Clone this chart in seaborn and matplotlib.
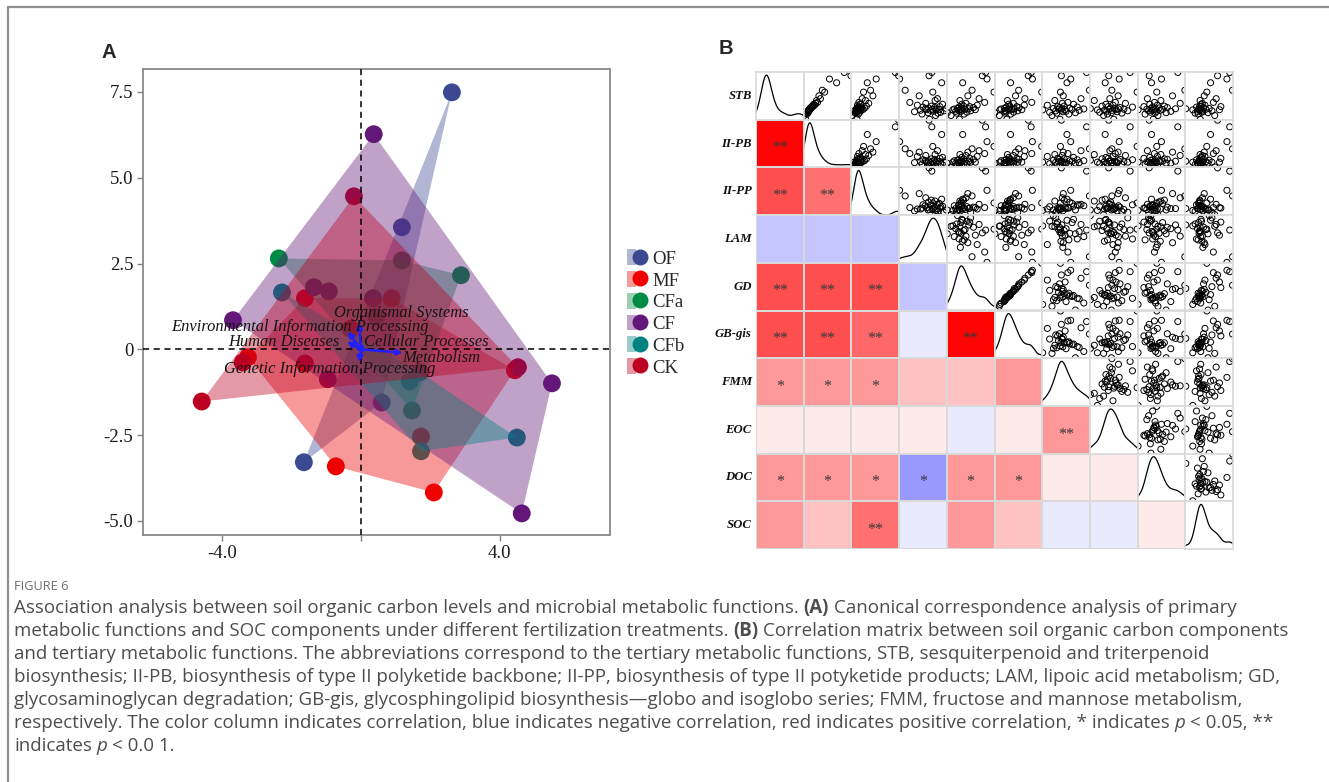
import numpy as np
import pandas as pd
import matplotlib
matplotlib.use("Agg")
import matplotlib.pyplot as plt
import seaborn as sns
from matplotlib.colors import LinearSegmentedColormap
from matplotlib.lines import Line2D
from matplotlib.patches import Patch, Polygon
from matplotlib.legend_handler import HandlerTuple

# ---------------- Panel A: CCA ordination ----------------
treatments = ["OF", "MF", "CFa", "CF", "CFb", "CK"]
treatment_colors = ["#3B4992", "#EE0000", "#008B45", "#631879", "#008280", "#BB0021"]

sample_group = (["OF"] * 4 + ["MF"] * 7 + ["CFa"] * 5 + ["CF"] * 8
                + ["CFb"] * 5 + ["CK"] * 6)
cca1 = [2.62, 1.18, 0.60, -1.64,
        -1.61, 0.89, -3.25, -0.72, 2.10, 4.43, 1.73,
        -2.36, 1.18, 2.88, 1.47, 0.45,
        0.37, -3.68, 5.50, 4.63, -1.35, -0.92, 0.35, -0.95,
        -2.27, 1.70, 1.41, 4.49, 1.73,
        -0.20, -4.58, 4.52, -1.61, -3.40, -0.30]
cca2 = [7.49, 3.56, -1.55, -3.29,
        1.49, 1.49, -0.23, -3.41, -4.17, -0.61, -2.54,
        2.65, 2.59, 2.16, -1.78, 0.95,
        6.27, 0.85, -0.99, -4.78, 1.81, 1.69, 1.49, -0.87,
        1.66, -0.67, -0.93, -2.57, -2.97,
        4.46, -1.52, -0.52, -0.41, -0.38, 0.60]

pathways = ["Organismal Systems", "Environmental Information Processing",
            "Human Diseases", "Cellular Processes", "Metabolism",
            "Genetic Information Processing"]
path_cca1 = [-0.05, -0.37, -0.40, 0.10, 1.20, -0.05]
path_cca2 = [0.78, 0.52, 0.23, 0.15, -0.10, -0.37]

# ---------------- Panel B: correlation matrix ----------------
variables = ["STB", "II-PB", "II-PP", "LAM", "GD", "GB-gis", "FMM", "EOC", "DOC", "SOC"]

corr_lower = [
    [],
    [0.98],
    [0.69, 0.56],
    [-0.23, -0.23, -0.23],
    [0.69, 0.69, 0.69, -0.23],
    [0.69, 0.69, 0.59, -0.08, 0.98],
    [0.40, 0.40, 0.40, 0.24, 0.24, 0.40],
    [0.08, 0.08, 0.08, 0.08, -0.08, 0.08, 0.40],
    [0.40, 0.40, 0.40, -0.40, 0.40, 0.40, 0.08, 0.08],
    [0.40, 0.24, 0.56, -0.08, 0.40, 0.24, -0.08, -0.08, 0.08],
]
stars_lower = [
    [],
    ["**"],
    ["**", "**"],
    ["", "", ""],
    ["**", "**", "**", ""],
    ["**", "**", "**", "", "**"],
    ["*", "*", "*", "", "", ""],
    ["", "", "", "", "", "", "**"],
    ["*", "*", "*", "*", "*", "*", "", ""],
    ["", "", "**", "", "", "", "", "", ""],
]

# per-sample measurements (36 samples)
STB = [10.0, 14.0, 15.5, 16.5, 17.0, 17.5, 18.0, 18.5, 19.0, 19.5,
       19.6, 20.0, 20.2, 20.5, 20.7, 21.0, 21.2, 21.5, 22.0, 22.5,
       23.0, 23.5, 24.0, 25.0, 26.0, 27.0, 28.0, 30.0, 32.0, 35.0,
       39.0, 41.0, 49.0, 53.0, 56.5, 60.0]
II_PB = [4.0, 2.8, 5.2, 4.8, 6.0, 5.6, 6.4, 6.0, 6.8, 6.4,
         7.2, 6.8, 6.8, 7.6, 7.2, 8.0, 7.6, 8.4, 8.0, 9.2,
         8.8, 10.0, 9.6, 11.6, 10.8, 12.4, 14.0, 13.2, 16.4, 15.2,
         20.0, 18.0, 30.0, 24.0, 42.0, 36.4]
II_PP = [12.4, 8.0, 13.6, 10.8, 12.0, 14.8, 11.2, 13.2, 10.0, 16.0,
         12.8, 11.6, 14.0, 17.6, 12.4, 15.6, 13.2, 12.0, 18.8, 14.4,
         16.4, 13.6, 20.4, 12.8, 15.2, 22.4, 14.0, 19.6, 16.8, 26.0,
         18.0, 24.0, 21.2, 28.8, 48.0, 45.2]
LAM = [52.0, 58.5, 44.0, 61.0, 50.5, 64.0, 36.0, 56.0, 67.5, 53.0,
       42.5, 59.0, 49.0, 62.5, 55.0, 47.5, 60.0, 70.0, 51.0, 57.5,
       45.0, 63.0, 54.0, 39.0, 66.0, 48.0, 31.0, 58.0, 60.5, 41.0,
       55.5, 26.0, 65.0, 20.0, 51.5, 54.5]
GD = [22.8, 17.4, 25.8, 21.0, 15.0, 27.6, 23.4, 20.4, 30.0, 22.2,
      24.6, 18.6, 33.0, 23.7, 26.4, 19.5, 28.8, 21.6, 24.0, 31.8,
      22.5, 29.4, 25.5, 34.2, 24.3, 27.0, 39.0, 23.1, 35.4, 28.2,
      45.0, 30.9, 24.9, 40.5, 37.5, 39.6]
GB_gis = [11.8, 9.4, 13.1, 11.2, 8.0, 14.0, 11.5, 10.9, 15.3, 11.3,
          12.9, 9.6, 16.6, 12.2, 13.5, 10.0, 14.2, 11.0, 12.6, 15.7,
          11.6, 15.0, 12.8, 17.4, 12.4, 13.9, 19.8, 12.0, 17.6, 14.6,
          23.0, 15.6, 13.0, 20.0, 18.7, 19.6]
FMM = [44.8, 38.0, 52.4, 42.0, 58.0, 36.0, 47.2, 50.0, 41.2, 61.2,
       45.6, 30.0, 49.2, 55.2, 43.6, 65.2, 46.4, 39.2, 53.2, 44.4,
       59.6, 42.8, 48.4, 34.0, 56.4, 46.8, 51.6, 40.4, 62.8, 47.6,
       45.2, 70.0, 50.8, 54.0, 46.0, 67.6]
EOC = [35.0, 28.5, 31.0, 40.2, 33.5, 26.0, 37.2, 30.5, 44.0, 34.0,
       29.0, 24.5, 36.5, 32.0, 41.5, 38.0, 35.5, 20.0, 33.0, 39.0,
       47.0, 31.5, 27.5, 34.5, 30.0, 42.5, 36.0, 22.5, 32.5, 37.8,
       50.0, 33.8, 29.5, 38.5, 31.8, 45.5]
DOC = [9.6, 10.4, 8.2, 9.9, 11.8, 9.1, 10.1, 12.6, 8.8, 9.4,
       10.8, 7.0, 9.7, 11.2, 8.5, 10.0, 13.4, 9.2, 10.6, 12.0,
       9.5, 8.0, 11.5, 10.3, 9.0, 14.2, 9.8, 10.9, 8.6, 12.9,
       10.2, 15.0, 9.3, 11.0, 8.9, 13.8]
SOC = [16.2, 22.4, 15.3, 14.0, 19.5, 16.7, 17.3, 15.0, 21.2, 15.9,
       16.9, 13.0, 24.4, 15.5, 18.6, 16.4, 10.0, 20.0, 15.7, 17.6,
       14.6, 25.0, 16.0, 18.2, 16.5, 17.1, 21.8, 16.1, 23.0, 17.9,
       19.0, 30.0, 20.6, 27.6, 23.6, 28.8]

caption_head = "FIGURE 6"
caption_lines = [
    [("Association analysis between soil organic carbon levels and microbial metabolic functions. ", "normal"),
     ("(A)", "bold"), (" Canonical correspondence analysis of primary", "normal")],
    [("metabolic functions and SOC components under different fertilization treatments. ", "normal"),
     ("(B)", "bold"), (" Correlation matrix between soil organic carbon components", "normal")],
    [("and tertiary metabolic functions. The abbreviations correspond to the tertiary metabolic functions, STB, sesquiterpenoid and triterpenoid", "normal")],
    [("biosynthesis; II-PB, biosynthesis of type II polyketide backbone; II-PP, biosynthesis of type II potyketide products; LAM, lipoic acid metabolism; GD,", "normal")],
    [("glycosaminoglycan degradation; GB-gis, glycosphingolipid biosynthesis\u2014globo and isoglobo series; FMM, fructose and mannose metabolism,", "normal")],
    [("respectively. The color column indicates correlation, blue indicates negative correlation, red indicates positive correlation, * indicates ", "normal"),
     ("p", "italic"), (" < 0.05, **", "normal")],
    [("indicates ", "normal"), ("p", "italic"), (" < 0.0 1.", "normal")],
]

# ---------------- figure set-up ----------------
sns.set_theme(style="white")
plt.rcParams["font.family"] = ["Liberation Serif", "DejaVu Serif"]

W, H = 1329, 782
fig = plt.figure(figsize=(W / 100, H / 100), dpi=100)
fig.patch.set_facecolor("white")


def fx(px):
    return px / W


def fy(py):
    return 1 - py / H


def convex_hull(points):
    pts = sorted(set(map(tuple, points)))
    if len(pts) < 3:
        return pts

    def cross(o, a, b):
        return (a[0] - o[0]) * (b[1] - o[1]) - (a[1] - o[1]) * (b[0] - o[0])

    lower, upper = [], []
    for p in pts:
        while len(lower) >= 2 and cross(lower[-2], lower[-1], p) <= 0:
            lower.pop()
        lower.append(p)
    for p in reversed(pts):
        while len(upper) >= 2 and cross(upper[-2], upper[-1], p) <= 0:
            upper.pop()
        upper.append(p)
    return lower[:-1] + upper[:-1]


# frame around the figure (top and left rules)
frame_col = "#8f8f8f"
fig.add_artist(Line2D([fx(8), 1.0], [fy(7), fy(7)], transform=fig.transFigure,
                      color=frame_col, lw=1.6))
fig.add_artist(Line2D([fx(8), fx(8)], [fy(7), 0.0], transform=fig.transFigure,
                      color=frame_col, lw=1.6))

# ---------------- Panel A ----------------
axA = fig.add_axes([fx(143), fy(535), fx(610) - fx(143), fy(69) - fy(535)])
palette = dict(zip(treatments, treatment_colors))
cca_df = pd.DataFrame({"CCA1": cca1, "CCA2": cca2, "Treatment": sample_group})

sns.scatterplot(data=cca_df, x="CCA1", y="CCA2", hue="Treatment",
                hue_order=treatments, palette=palette, s=165, linewidth=0,
                edgecolor="none", legend=False, ax=axA, zorder=2)

for name in treatments:
    pts = cca_df.loc[cca_df["Treatment"] == name, ["CCA1", "CCA2"]].to_numpy()
    hull = convex_hull(pts)
    axA.add_patch(Polygon(hull, closed=True, facecolor=palette[name],
                          alpha=0.4, edgecolor="none", zorder=3))

axA.axhline(0, color="black", lw=1.1, ls=(0, (4, 3)), zorder=4)
axA.axvline(0, color="black", lw=1.1, ls=(0, (4, 3)), zorder=4)

label_pos = {
    "Organismal Systems": (1.17, 1.05),
    "Environmental Information Processing": (-1.74, 0.66),
    "Human Diseases": (-2.22, 0.21),
    "Cellular Processes": (1.89, 0.22),
    "Metabolism": (2.32, -0.25),
    "Genetic Information Processing": (-0.89, -0.56),
}
for name, px_, py_ in zip(pathways, path_cca1, path_cca2):
    axA.annotate("", xy=(px_, py_), xytext=(0, 0),
                 arrowprops=dict(arrowstyle="-|>", color="#1f1fff", lw=1.8,
                                 mutation_scale=8, shrinkA=0, shrinkB=0),
                 zorder=6)
    lx, ly = label_pos[name]
    axA.text(lx, ly, name, ha="center", va="center", style="italic",
             fontsize=11.9, color="#141414", zorder=7)

axA.set_xlim(-6.27, 7.17)
axA.set_ylim(-5.41, 8.17)
axA.set_xticks([-4, 0, 4])
axA.set_xticklabels(["-4.0", "", "4.0"])
axA.set_yticks([-5, -2.5, 0, 2.5, 5, 7.5])
axA.set_yticklabels(["-5.0", "-2.5", "0", "2.5", "5.0", "7.5"])
axA.set_xlabel("")
axA.set_ylabel("")
axA.tick_params(bottom=True, left=True, direction="out", length=4, width=1,
                color="#7f7f7f", labelsize=13.5, labelcolor="#1a1a1a", pad=3)
for sp in axA.spines.values():
    sp.set_color("#8a8a8a")
    sp.set_linewidth(1.3)

handles = [(Patch(facecolor=c, alpha=0.4, edgecolor="none"),
            Line2D([], [], marker="o", ls="", markersize=11.5,
                   markerfacecolor=c, markeredgecolor="none"))
           for c in treatment_colors]
fig.legend(handles=handles, labels=treatments,
           handler_map={tuple: HandlerTuple(ndivide=None, pad=0)},
           loc="center left", bbox_to_anchor=(fx(627), fy(313)),
           frameon=False, fontsize=13.5, handlelength=0.92, handleheight=0.92,
           labelspacing=0.18, handletextpad=0.45, borderaxespad=0, borderpad=0)

fig.text(fx(102), fy(52), "A", fontsize=14.5, fontweight="bold",
         family="Liberation Sans", ha="left", va="center")

# ---------------- Panel B ----------------
n = len(variables)
corr = np.zeros((n, n))
star_txt = np.full((n, n), "", dtype=object)
for i, row in enumerate(corr_lower):
    for j, v in enumerate(row):
        corr[i, j] = v
        star_txt[i, j] = stars_lower[i][j]
corr_df = pd.DataFrame(corr, index=variables, columns=variables)
mask = np.triu(np.ones((n, n), dtype=bool))

gx0, gx1, gy0, gy1 = 756, 1233, 72, 549
axB = fig.add_axes([fx(gx0), fy(gy1), fx(gx1) - fx(gx0), fy(gy0) - fy(gy1)])
cmap = LinearSegmentedColormap.from_list("blue_white_red",
                                         ["#0000FF", "#FFFFFF", "#FF0000"])
grid_col = "#d9d9d9"
sns.heatmap(corr_df, mask=mask, cmap=cmap, vmin=-1, vmax=1, cbar=False,
            linewidths=1.2, linecolor=grid_col, ax=axB)
for i in range(n):
    for j in range(i):
        if star_txt[i, j]:
            axB.text(j + 0.5, i + 0.6, star_txt[i, j], ha="center", va="center",
                     fontsize=11.5, color="#3a3a3a")
axB.set_xticks([])
axB.set_xlabel("")
axB.set_ylabel("")
axB.set_yticks(np.arange(n) + 0.5)
axB.set_yticklabels(variables, rotation=0, fontsize=9.2, fontweight="bold",
                    style="italic", color="#111111")
axB.tick_params(left=False, length=0, pad=3)

raw = {"STB": STB, "II-PB": II_PB, "II-PP": II_PP, "LAM": LAM, "GD": GD,
       "GB-gis": GB_gis, "FMM": FMM, "EOC": EOC, "DOC": DOC, "SOC": SOC}
raw_df = pd.DataFrame(raw)
cw = (gx1 - gx0) / n
for i in range(n):
    for j in range(i, n):
        left = gx0 + j * cw
        top = gy0 + i * cw
        ax = fig.add_axes([fx(left), fy(top + cw), fx(cw), cw / H])
        ax.set_facecolor("white")
        xv = raw_df[variables[j]]
        if i == j:
            sns.kdeplot(x=xv, ax=ax, color="black", lw=0.9, bw_adjust=0.75)
            ymax = max(line.get_ydata().max() for line in ax.get_lines())
            ax.set_ylim(0, ymax * 1.07)
        else:
            yv = raw_df[variables[i]]
            sns.scatterplot(x=xv, y=yv, ax=ax, s=19, facecolor="none",
                            edgecolor="black", linewidth=0.7)
            rng_y = yv.max() - yv.min()
            ax.set_ylim(yv.min() - 0.01 * rng_y, yv.max() + 0.01 * rng_y)
        rng_x = xv.max() - xv.min()
        ax.set_xlim(xv.min() - 0.01 * rng_x, xv.max() + 0.01 * rng_x)
        ax.set_xticks([])
        ax.set_yticks([])
        ax.set_xlabel("")
        ax.set_ylabel("")
        for sp in ax.spines.values():
            sp.set_color(grid_col)
            sp.set_linewidth(1.2)

fig.text(fx(719), fy(48), "B", fontsize=14.5, fontweight="bold",
         family="Liberation Sans", ha="left", va="center")

# ---------------- caption ----------------
cap_color = "#4d4d4d"
cap_font = "Open Sans"
cap_size = 13.5
renderer = fig.canvas.get_renderer()

fig.text(fx(14), fy(587), caption_head, fontsize=9.2, color="#6e6e6e",
         family=cap_font, ha="left", va="center")

probe_a = fig.text(0, 0, "a a", fontsize=cap_size, family=cap_font)
probe_b = fig.text(0, 0, "aa", fontsize=cap_size, family=cap_font)
space_w = (probe_a.get_window_extent(renderer).width
           - probe_b.get_window_extent(renderer).width)
probe_a.remove()
probe_b.remove()

line_y = 613
for runs in caption_lines:
    x = 14.0
    for txt, style in runs:
        lead = len(txt) - len(txt.lstrip(" "))
        trail = len(txt) - len(txt.rstrip(" "))
        x += lead * space_w
        core = txt.strip(" ")
        kw = {}
        if style == "bold":
            kw["fontweight"] = "bold"
        elif style == "italic":
            kw["style"] = "italic"
        t = fig.text(fx(x), fy(line_y), core, fontsize=cap_size, color=cap_color,
                     family=cap_font, ha="left", va="baseline", **kw)
        x += t.get_window_extent(renderer).width + trail * space_w
    line_y += 23

fig.savefig("out.png", dpi=100, facecolor="white")
